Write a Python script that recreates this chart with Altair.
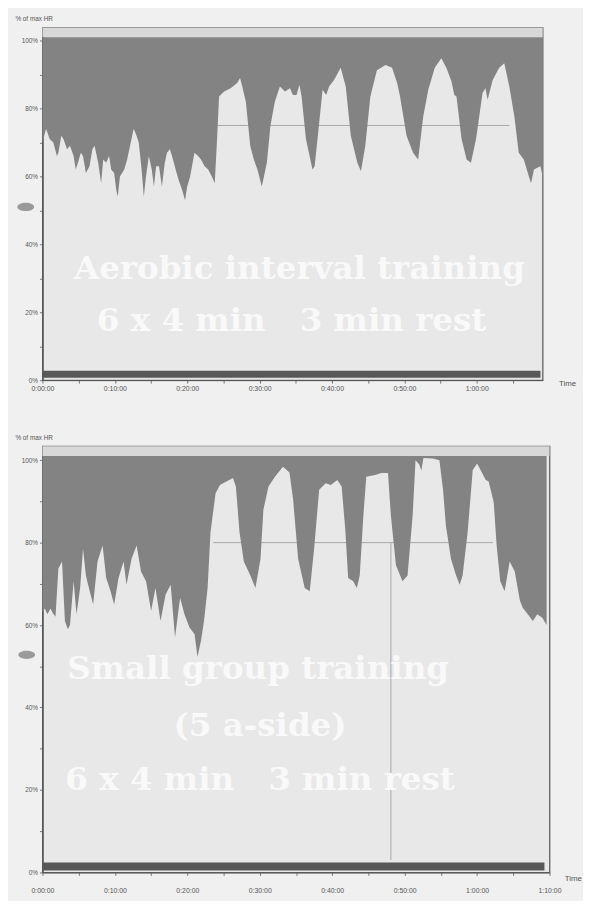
import altair as alt
import pandas as pd

# ---------------- data ----------------
# Top panel: aerobic interval training, time in minutes, HR in % of max
top_t = [0.0, 0.5, 1.0, 1.5, 2.0, 2.2, 2.6, 2.9, 3.4, 3.8, 4.3, 4.6, 4.9, 5.3, 5.6, 6.0, 6.5, 6.9,
         7.2, 7.7, 8.1, 8.4, 8.8, 9.2, 9.5, 9.9, 10.2, 10.4, 10.7, 11.3, 11.7, 12.0, 12.6, 13.0,
         13.3, 13.7, 14.0, 14.3, 14.7, 15.1, 15.4, 15.7, 16.1, 16.5, 16.9, 17.2, 17.6, 17.9, 18.4,
         18.8, 19.3, 19.7, 20.0, 20.4, 21.0, 21.5, 21.9, 22.4, 22.9, 23.4, 23.8, 24.1, 24.4, 25.1,
         26.0, 26.9, 27.3, 27.6, 28.1, 28.7, 29.2, 29.7, 30.3, 30.6, 31.0, 31.5, 32.1, 32.8, 33.5,
         34.2, 34.6, 35.1, 35.5, 35.8, 36.4, 37.3, 37.6, 38.0, 38.7, 39.2, 39.6, 40.3, 41.2, 41.9,
         42.6, 43.5, 44.0, 44.6, 45.3, 46.2, 47.4, 48.3, 49.0, 49.4, 50.3, 51.2, 51.9, 52.6, 53.3,
         54.2, 55.1, 55.8, 56.5, 56.9, 57.2, 57.9, 58.6, 59.2, 59.9, 60.8, 61.2, 61.5, 62.2, 63.1,
         63.8, 64.5, 65.2, 65.8, 66.5, 67.2, 67.5, 67.9, 68.8, 69.1]
top_hr = [70, 74, 71, 70, 66, 67, 72, 71, 68, 69, 66, 62, 64, 67, 66, 61, 63, 68,
          69, 64, 58, 65, 64, 66, 62, 61, 56, 54, 60, 62, 65, 68, 74, 72,
          70, 62, 54, 60, 66, 62, 57, 63, 63, 57, 64, 67, 68, 66, 62,
          59, 56, 53, 57, 60, 67, 66, 65, 63, 62, 60, 58, 70, 83.5, 85,
          86, 87.5, 89, 86.5, 82, 69, 65, 62, 57, 60, 64, 75, 82, 86.5, 85,
          86, 84, 84, 87, 83.5, 71, 62, 63, 71, 85.5, 84, 86.5, 88.5, 92, 86.5,
          72, 64, 61.5, 69, 83.5, 91.3, 92.8, 92, 87.5, 83.5, 72, 67, 65, 77.6, 85.5,
          92, 94.8, 92, 88, 84, 83.5, 71, 65, 64, 71, 84.6, 86, 82.6, 88.4, 92,
          93.3, 86.5, 77.6, 67, 65, 60, 58, 62, 63, 60]

# Bottom panel: small group training (5 a-side)
bot_t = [0.0, 0.3, 0.7, 1.1, 1.4, 1.8, 2.2, 2.7, 3.1, 3.5, 3.8, 4.3, 4.7, 5.2, 5.6, 6.0, 6.3,
         7.0, 7.6, 8.3, 8.8, 9.4, 9.9, 10.5, 11.2, 11.6, 12.3, 13.0, 13.6, 14.3, 15.0, 15.6,
         16.3, 17.0, 17.7, 18.3, 19.0, 19.6, 20.3, 21.0, 21.4, 21.9, 22.3, 22.8, 23.2, 23.9,
         24.5, 25.4, 26.3, 26.7, 27.2, 27.8, 28.7, 29.4, 30.1, 30.5, 31.2, 32.1, 33.2, 34.1,
         34.6, 35.3, 36.2, 36.9, 37.5, 38.2, 39.1, 39.8, 40.7, 41.3, 41.8, 42.2, 42.9, 43.4,
         43.8, 44.3, 44.7, 45.9, 46.8, 47.7, 48.1, 48.8, 49.7, 50.4, 51.1, 51.5, 52.0, 52.3,
         52.6, 53.9, 54.8, 55.3, 55.7, 56.4, 57.1, 57.6, 58.0, 58.7, 59.4, 60.0, 60.7, 61.2,
         61.6, 62.3, 62.7, 63.2, 63.8, 64.5, 65.2, 65.9, 66.3, 67.0, 67.7, 68.3, 69.0, 69.6]
bot_hr = [63, 64, 62.6, 64, 63, 62, 73.7, 75.4, 61, 59, 60, 70.6, 62.6, 69, 78.5, 72, 69.8,
          65, 75.4, 79.3, 71.4, 68.2, 65, 71.4, 75.4, 69.8, 76.1, 79.3, 73, 70.6, 63.4, 69,
          61, 67.4, 69.8, 57, 66.6, 62.6, 59.4, 57.8, 52.3, 56.3, 61, 69, 82.6, 92,
          94, 94.8, 95.7, 93.6, 82.6, 75.4, 72, 69, 76, 88, 93.6, 96, 98.4, 97,
          90.5, 76, 69, 68.2, 78.5, 92.8, 94.4, 94, 95.2, 93.6, 83.3, 71.4, 70.6, 69,
          72, 86.5, 96, 96.4, 96.9, 96.9, 86.5, 74.5, 70.6, 72, 86.5, 100, 99, 97.5,
          100.5, 100.4, 100, 92.8, 84, 76, 72, 69.8, 72, 82.6, 97.6, 99.2, 96.9, 95.2,
          94.8, 89.7, 79.3, 70.6, 68.2, 75.4, 73, 66, 64.2, 62.6, 61, 62.6, 61.8, 60]

# axis ticks
top_x_ticks = [0, 5, 10, 15, 20, 25, 30, 35, 40, 45, 50, 55, 60, 65]
bot_x_ticks = [0, 5, 10, 15, 20, 25, 30, 35, 40, 45, 50, 55, 60, 65, 70]
y_ticks = [0, 10, 20, 30, 40, 50, 60, 70, 80, 90, 100]

# scale extents
top_xmax, bot_xmax = 69.1, 70.0
top_ymax, bot_ymax = 103.8, 103.4
ceiling = 101

# reference lines (time start, time end, level)
top_hline = {"t1": [24.0], "t2": [64.5], "v": [75]}
bot_hline = {"t1": [23.6], "t2": [62.2], "v": [80]}
bot_vline = {"t": [48.1], "v1": [3], "v2": [80]}

# exercise strip at the bottom
top_strip = {"t1": [0], "t2": [68.8], "v1": [0.7], "v2": [2.8]}
bot_strip = {"t1": [0], "t2": [69.3], "v1": [0.5], "v2": [2.4]}

top_text = ["Aerobic interval training", "6 x 4 min \u00a0 3 min rest"]
bot_text = ["Small group training", "(5 a-side)", "6 x 4 min \u00a0 3 min rest"]

# ---------------- chart ----------------
AX = "#555555"
label_expr_x = ("datum.value % 10 == 0 ? (floor(datum.value/60) + ':' + "
                "((datum.value % 60) < 10 ? '0' : '') + (datum.value % 60) + ':00') : ''")
label_expr_y = "datum.value % 20 == 0 ? datum.value + '%' : ''"


def panel(t, hr, xmax, ymax, w, h, xticks, hline, vline, strip, texts, text_pos, marker_pos,
          time_dx, time_dy, xlab_pad):
    xs = alt.Scale(domain=[0, xmax], nice=False, zero=False)
    ys = alt.Scale(domain=[0, ymax], nice=False)
    xaxis = alt.Axis(values=xticks, labelExpr=label_expr_x, title="Time", titleX=w + time_dx,
                     titleY=time_dy, titleAlign="left", titleBaseline="middle", titleFontSize=8,
                     titleFontWeight="normal", titleColor=AX, labelFontSize=7, labelColor=AX,
                     labelFont="Liberation Sans", titleFont="Liberation Sans",
                     tickSize=3, tickColor="#777777", domainColor=AX, labelPadding=xlab_pad,
                     labelFlush=False, labelOverlap=False, grid=False)
    yaxis = alt.Axis(values=y_ticks, labelExpr=label_expr_y, title="% of max HR", titleAngle=0,
                     titleAlign="left", titleBaseline="bottom", titleX=-28, titleY=-6,
                     titleFontSize=6.5, titleFontWeight="normal", titleColor=AX,
                     labelFontSize=6.5, labelColor=AX, labelFont="Liberation Sans",
                     titleFont="Liberation Sans", tickSize=3, tickColor="#777777",
                     domainColor=AX, domainWidth=1.5, labelPadding=2, minExtent=34, maxExtent=34,
                     grid=False)

    def X(f):
        return alt.X(f, scale=xs, axis=xaxis, title="Time")

    def Y(f):
        return alt.Y(f, scale=ys, axis=yaxis, title="% of max HR")

    df = pd.DataFrame({"t": t, "hr": hr})

    band = alt.Chart(pd.DataFrame({"a": [0], "b": [xmax], "c": [ceiling], "d": [ymax]})).mark_rect(
        color="#d8d8d8").encode(x=X("a:Q"), x2="b:Q", y=Y("c:Q"), y2="d:Q")

    layers = [band]
    hl = alt.Chart(pd.DataFrame(hline)).mark_rule(color="#a9a9a9", strokeWidth=1).encode(
        x=X("t1:Q"), x2="t2:Q", y=Y("v:Q"))
    layers.append(hl)
    if vline is not None:
        vl = alt.Chart(pd.DataFrame(vline)).mark_rule(color="#a9a9a9", strokeWidth=1).encode(
            x=X("t:Q"), y=Y("v1:Q"), y2="v2:Q")
        layers.append(vl)

    area = alt.Chart(df).mark_area(color="#838383", interpolate="linear").encode(
        x=X("t:Q"), y=Y("hr:Q"), y2=alt.Y2(datum=ceiling))
    layers.append(area)

    st = alt.Chart(pd.DataFrame(strip)).mark_rect(color="#585858").encode(
        x=X("t1:Q"), x2="t2:Q", y=Y("v1:Q"), y2="v2:Q")
    layers.append(st)

    for txt, (px, py) in zip(texts, text_pos):
        layers.append(
            alt.Chart(pd.DataFrame({"label": [txt]})).mark_text(
                font="DejaVu Serif", fontWeight="bold", fontSize=33, color="#f9f9f9",
                align="center", baseline="alphabetic").encode(
                x=alt.value(px), y=alt.value(py), text="label:N"))

    mk = alt.Chart(pd.DataFrame({"m": [1]})).mark_point(
        shape="M -1 0 A 1 0.5 0 1 0 1 0 A 1 0.5 0 1 0 -1 0 Z", size=290, filled=True,
        color="#9a9a9a", opacity=1).encode(x=alt.value(marker_pos[0]), y=alt.value(marker_pos[1]))
    layers.append(mk)

    return alt.layer(*layers).properties(width=w, height=h)


top = panel(top_t, top_hr, top_xmax, top_ymax, 508, 358, top_x_ticks, top_hline, None, top_strip,
            top_text, [(261, 255), (253, 308)], (-17, 182), 16, 3, 2)
bot = panel(bot_t, bot_hr, bot_xmax, bot_ymax, 515, 433, bot_x_ticks, bot_hline, bot_vline, bot_strip,
            bot_text, [(219, 237), (221, 294), (221, 349)], (-16, 212), 15, 6, 11)

chart = alt.vconcat(top, bot, spacing=41).properties(
    padding={"left": 0, "top": 0, "right": 0, "bottom": 0},
    background="#f0f0f0",
).configure_view(stroke="#606060", strokeWidth=1.3, fill="#e8e8e8")

chart.save("out.html", embed_options={"renderer": "svg", "actions": False})
